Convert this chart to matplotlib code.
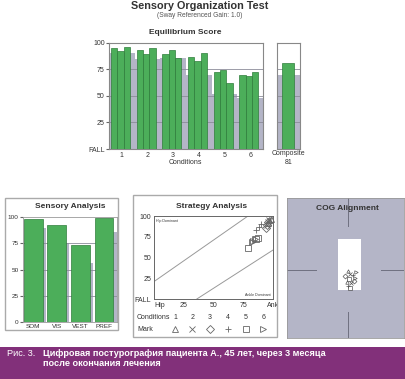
import matplotlib
matplotlib.use("Agg")
import matplotlib.pyplot as plt
from matplotlib.patches import Rectangle

plt.rcParams['font.family'] = ['Liberation Sans', 'DejaVu Sans']

W, H = 406, 379

# equilibrium score, 3 trials per condition
conditions = ['1', '2', '3', '4', '5', '6']
eq_scores = [[95, 92, 96], [93, 89, 95], [89, 93, 86],
             [87, 83, 90], [72, 74, 62], [70, 69, 72]]
eq_norms = [90, 85, 86, 70, 52, 48]
composite = 81
composite_norm = 70

# sensory analysis
sens_labels = ['SOM', 'VIS', 'VEST', 'PREF']
sens_values = [98, 93, 73, 99]
sens_norms = [90, 75, 56, 86]

# strategy analysis (x = strategy score, y = equilibrium score)
strat_x = [[97, 96, 98], [96, 95, 97], [95, 96, 94],
           [88, 86, 90], [86, 87, 79], [83, 82, 85]]
mark_symbols = ['^', 'x', 'D', '+', 's', '>']

# COG alignment trace points
cog_x = [52, 54, 50, 56, 53, 58, 51, 55, 57, 52, 54, 59]
cog_y = [48, 46, 44, 45, 42, 43, 40, 39, 41, 37, 36, 47]

GREEN = '#4cae5a'
GREEN_EDGE = '#2f7d3b'
GRAY = '#b4b5c7'
GRID = '#8c8c9a'
TXT = '#333333'


def box(x0, y0, x1, y1):
    return [x0 / W, 1 - y1 / H, (x1 - x0) / W, (y1 - y0) / H]


def fx(x):
    return x / W


def fy(y):
    return 1 - y / H


fig = plt.figure(figsize=(W / 100, H / 100), dpi=100)

# ---- top: Sensory Organization Test
fig.text(fx(200), fy(6), 'Sensory Organization Test', ha='center', va='center',
         fontsize=7.8, fontweight='bold', color=TXT)
fig.text(fx(200), fy(15.7), '(Sway Referenced Gain: 1.0)', ha='center', va='center',
         fontsize=4.8, color='#555555')
fig.text(fx(185), fy(33), 'Equilibrium Score', ha='center', va='center',
         fontsize=6, fontweight='bold', color=TXT)

ax = fig.add_axes(box(109, 42.7, 263, 149))
for i in range(6):
    ax.bar(i + 0.5, eq_norms[i], width=1.0, color=GRAY, zorder=1)
    for k in range(3):
        ax.bar(i + 0.448 + (k - 1) * 0.247, eq_scores[i][k], width=0.247,
               color=GREEN, edgecolor=GREEN_EDGE, linewidth=0.5, zorder=3)
for g in [25, 50, 75]:
    ax.axhline(g, color=GRID, lw=0.6, zorder=2)
ax.set_xlim(0, 6)
ax.set_ylim(0, 100)
ax.set_yticks([0, 25, 50, 75, 100])
ax.set_yticklabels(['FALL', '25', '50', '75', '100'])
ax.set_xticks([i + 0.5 for i in range(6)])
ax.set_xticklabels(conditions)
ax.tick_params(axis='y', length=2, pad=1, labelsize=5, colors='#666666', labelcolor=TXT)
ax.tick_params(axis='x', length=0, pad=2, labelsize=5, labelcolor=TXT)
for s in ax.spines.values():
    s.set_color('#888888')
    s.set_linewidth(0.8)
fig.text(fx(185), fy(162), 'Conditions', ha='center', va='center', fontsize=5, color=TXT)

axc = fig.add_axes(box(276.7, 42.7, 300, 149))
axc.bar(0.5, composite_norm, width=1.0, color=GRAY, zorder=1)
axc.bar(0.49, composite, width=0.485, color=GREEN, edgecolor=GREEN_EDGE,
        linewidth=0.5, zorder=3)
for g in [25, 50, 75]:
    axc.axhline(g, color=GRID, lw=0.6, zorder=2)
axc.set_xlim(0, 1)
axc.set_ylim(0, 100)
axc.set_xticks([])
axc.set_yticks([])
for s in axc.spines.values():
    s.set_color('#888888')
    s.set_linewidth(0.8)
fig.text(fx(288.5), fy(154), 'Composite', ha='center', va='center', fontsize=5, color=TXT)
fig.text(fx(288.5), fy(163), str(composite), ha='center', va='center', fontsize=5, color=TXT)

# ---- bottom left: Sensory Analysis
fig.patches.append(Rectangle((fx(5), fy(330)), (118 - 5) / W, (330 - 198) / H,
                             transform=fig.transFigure, facecolor='none',
                             edgecolor='#aaaaaa', lw=1))
fig.text(fx(70), fy(206.7), 'Sensory Analysis', ha='center', va='center',
         fontsize=6, fontweight='bold', color=TXT)
axs = fig.add_axes(box(22.7, 217.3, 117, 321.7))
for i in range(4):
    axs.bar(i + 0.565, sens_norms[i], width=0.83, color=GRAY, zorder=1)
    axs.bar(i + 0.45, sens_values[i], width=0.8, color=GREEN,
            edgecolor=GREEN_EDGE, linewidth=0.5, zorder=3)
for g in [25, 50, 75]:
    axs.axhline(g, color=GRID, lw=0.6, zorder=2)
axs.set_xlim(0, 4)
axs.set_ylim(0, 100)
axs.set_yticks([0, 25, 50, 75, 100])
axs.set_xticks([i + 0.45 for i in range(4)])
axs.set_xticklabels(sens_labels)
axs.tick_params(axis='y', length=2, pad=1, labelsize=4.6, colors='#666666', labelcolor=TXT)
axs.tick_params(axis='x', length=0, pad=1.5, labelsize=4.6, labelcolor=TXT)
for s in axs.spines.values():
    s.set_color('#999999')
    s.set_linewidth(0.6)

# ---- bottom middle: Strategy Analysis
fig.patches.append(Rectangle((fx(133), fy(337)), (277 - 133) / W, (337 - 195) / H,
                             transform=fig.transFigure, facecolor='none',
                             edgecolor='#aaaaaa', lw=1))
fig.text(fx(211.7), fy(206.7), 'Strategy Analysis', ha='center', va='center',
         fontsize=6, fontweight='bold', color=TXT)
axt = fig.add_axes(box(154, 216, 273, 299))
axt.plot([0, 79], [21, 100], color='#999999', lw=0.7)
axt.plot([36, 100], [0, 59], color='#999999', lw=0.7)
for i in range(6):
    axt.plot(strat_x[i], eq_scores[i], linestyle='none', marker=mark_symbols[i],
             markersize=3.8, markerfacecolor='none', markeredgecolor='#666666',
             markeredgewidth=0.6, clip_on=False)
axt.set_xlim(0, 100)
axt.set_ylim(0, 100)
axt.set_xticks([0, 25, 50, 75, 100])
axt.set_xticklabels(['Hip', '25', '50', '75', 'Ank'])
axt.get_xticklabels()[0].set_ha('left')
axt.set_yticks([0, 25, 50, 75, 100])
axt.set_yticklabels(['FALL', '25', '50', '75', '100'])
axt.tick_params(length=0, pad=2, labelsize=5, labelcolor=TXT)
for s in axt.spines.values():
    s.set_color('#666666')
    s.set_linewidth(0.7)
axt.text(2, 96, 'Hip Dominant', fontsize=2.6, color=TXT, va='top')
axt.text(98, 2, 'Ankle Dominant', fontsize=2.6, color=TXT, ha='right', va='bottom')

cond_x = [175, 192.3, 210, 227.7, 245.7, 263.3]
fig.text(fx(137), fy(317.3), 'Conditions', ha='left', va='center', fontsize=5, color=TXT)
fig.text(fx(137), fy(329.3), 'Mark', ha='left', va='center', fontsize=5, color=TXT)
for i in range(6):
    fig.text(fx(cond_x[i]), fy(317.3), conditions[i], ha='center', va='center',
             fontsize=5, color=TXT)
    axt.plot([fx(cond_x[i])], [fy(329.3)], transform=fig.transFigure,
             marker=mark_symbols[i], markersize=3.8, markerfacecolor='none',
             markeredgecolor='#666666', markeredgewidth=0.6, clip_on=False)

# ---- bottom right: COG Alignment
axg = fig.add_axes(box(287, 198, 404, 338))
axg.set_facecolor(GRAY)
axg.add_patch(Rectangle((43.6, 34.3), 19.6, 36.4, facecolor='white', edgecolor='none'))
axg.plot([52, 52], [100, 80], color='#6f7080', lw=0.7)
axg.plot([52, 52], [18.6, 0], color='#6f7080', lw=0.7)
axg.plot([0, 25], [48.6, 48.6], color='#6f7080', lw=0.7)
axg.plot([80, 100], [48.6, 48.6], color='#6f7080', lw=0.7)
for i in range(len(cog_x)):
    axg.plot(cog_x[i], cog_y[i], linestyle='none', marker=mark_symbols[i % 6],
             markersize=2.5, markerfacecolor='none', markeredgecolor='#555555',
             markeredgewidth=0.5)
axg.set_xlim(0, 100)
axg.set_ylim(0, 100)
axg.set_xticks([])
axg.set_yticks([])
for s in axg.spines.values():
    s.set_color('#999999')
    s.set_linewidth(0.6)
axg.text(52, 92.5, 'COG Alignment', ha='center', va='center', fontsize=6,
         fontweight='bold', color=TXT)

# ---- caption band
fig.patches.append(Rectangle((0, 0), 1, (379 - 347) / H, transform=fig.transFigure,
                             facecolor='#82307a', edgecolor='none'))
fig.text(fx(7), fy(354), 'Рис. 3.', ha='left', va='center', fontsize=6.6, color='white')
fig.text(fx(43), fy(354), 'Цифровая постурография пациента А., 45 лет, через 3 месяца',
         ha='left', va='center', fontsize=6.6, fontweight='bold', color='white')
fig.text(fx(43), fy(363), 'после окончания лечения',
         ha='left', va='center', fontsize=6.6, fontweight='bold', color='white')

fig.savefig('out.png', dpi=100)
